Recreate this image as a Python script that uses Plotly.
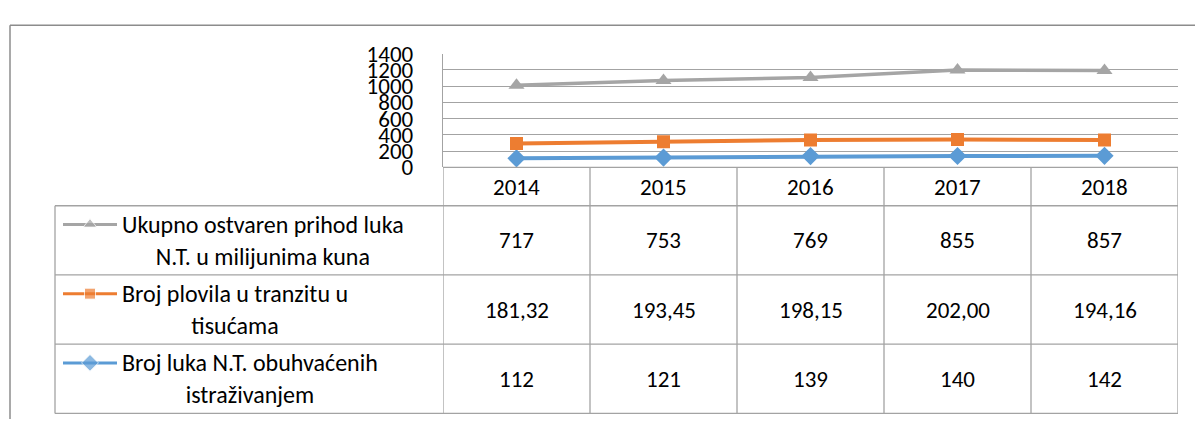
import plotly.graph_objects as go

years = [2014, 2015, 2016, 2017, 2018]
prihod = [717, 753, 769, 855, 857]                      # Ukupno ostvaren prihod luka N.T. u milijunima kuna
plovila = [181.32, 193.45, 198.15, 202.00, 194.16]       # Broj plovila u tranzitu u tisućama
luke = [112, 121, 139, 140, 142]                         # Broj luka N.T. obuhvaćenih istraživanjem

labels = [["Ukupno ostvaren prihod luka", "N.T. u milijunima kuna"],
          ["Broj plovila u tranzitu u", "tisućama"],
          ["Broj luka N.T. obuhvaćenih", "istraživanjem"]]
y_ticks = [0, 200, 400, 600, 800, 1000, 1200, 1400]

GREY, ORANGE, BLUE = "#A5A5A5", "#ED7D31", "#5B9BD5"
W, H = 1195, 433
FONT = "Carlito, Calibri, Lato, sans-serif"
FS = 23
FS_LEG = 24
BORDER = "#A3A3A3"


def px(x):
    return x / W


def py(y):
    return 1 - y / H


plot_left, plot_right, plot_top, plot_bottom = 443, 1178, 42.3, 164
row_edges = [164, 205, 279, 353, 427]
leg_left = 55

fig = go.Figure()

# stacked line series (Excel "stacked line"): blue bottom, orange, grey on top
series = [("Broj luka N.T. obuhvaćenih istraživanjem", luke, BLUE, "diamond", 14, 4),
          ("Broj plovila u tranzitu u tisućama", plovila, ORANGE, "square", 13, 4),
          ("Ukupno ostvaren prihod luka N.T. u milijunima kuna", prihod, GREY, "triangle-up", 14, 3.5)]
for name, vals, col, sym, size, lw in series:
    fig.add_trace(go.Scatter(x=years, y=vals, name=name, stackgroup="one", fill="none",
                             mode="lines+markers", line=dict(color=col, width=lw),
                             marker=dict(symbol=sym, size=size, color=col),
                             showlegend=False, xaxis="x", yaxis="y"))

# legend keys inside the data table (overlay pixel axes)
keys = [(GREY, "triangle-up", 12), (ORANGE, "square", 11), (BLUE, "diamond", 13)]
for i, (col, sym, size) in enumerate(keys):
    yk = row_edges[i + 1] + 20
    fig.add_trace(go.Scatter(x=[63, 90, 117], y=[yk, yk, yk], mode="lines+markers",
                             line=dict(color=col, width=3),
                             marker=dict(symbol=sym, size=[0, size, 0], color=col),
                             showlegend=False, hoverinfo="skip", xaxis="x2", yaxis="y2"))

shapes = []
line = dict(color=BORDER, width=1.3)
# outer chart border (top and left)
shapes.append(dict(type="line", xref="paper", yref="paper", x0=px(10), x1=1, y0=py(12), y1=py(12),
                   line=dict(color="#8C8C8C", width=1.5)))
shapes.append(dict(type="line", xref="paper", yref="paper", x0=px(10), x1=px(10), y0=py(12), y1=0,
                   line=dict(color="#8C8C8C", width=1.5)))
# table horizontal lines
shapes.append(dict(type="line", xref="paper", yref="paper", x0=px(plot_left), x1=px(plot_right),
                   y0=py(row_edges[0]), y1=py(row_edges[0]), line=line))
for ye in row_edges[1:]:
    shapes.append(dict(type="line", xref="paper", yref="paper", x0=px(leg_left), x1=px(plot_right),
                       y0=py(ye), y1=py(ye), line=line))
# table vertical lines at category boundaries
for xb in [y - 0.5 for y in years] + [years[-1] + 0.5]:
    shapes.append(dict(type="line", xref="x", yref="paper", x0=xb, x1=xb,
                       y0=py(row_edges[0]), y1=py(row_edges[-1]), line=line))
shapes.append(dict(type="line", xref="paper", yref="paper", x0=px(leg_left), x1=px(leg_left),
                   y0=py(row_edges[1]), y1=py(row_edges[-1]), line=line))

annotations = []
tf = dict(family=FONT, size=FS, color="#000000")
for j, yr in enumerate(years):
    annotations.append(dict(x=yr, xref="x", yref="paper", y=py((row_edges[0] + row_edges[1]) / 2),
                            text=str(yr), showarrow=False, font=tf, xanchor="center", yanchor="middle"))
rows = [[str(v) for v in prihod],
        [f"{v:.2f}".replace(".", ",") for v in plovila],
        [str(v) for v in luke]]
for i, r in enumerate(rows):
    yc = py((row_edges[i + 1] + row_edges[i + 2]) / 2)
    for yr, t in zip(years, r):
        annotations.append(dict(x=yr, xref="x", yref="paper", y=yc, text=t, showarrow=False,
                                font=tf, xanchor="center", yanchor="middle"))
    txt = "<br>".join(f'<span style="font-size:{FS_LEG}px">{s}</span>' for s in labels[i])
    annotations.append(dict(x=px(120), xref="paper", yref="paper", y=yc, text=txt,
                            showarrow=False, font=dict(family=FONT, size=24.6, color="#000000"),
                            xanchor="left", yanchor="middle", align="center"))

fig.update_layout(
    width=W, height=H, margin=dict(l=0, r=0, t=0, b=0),
    paper_bgcolor="white", plot_bgcolor="rgba(0,0,0,0)",
    xaxis=dict(domain=[px(plot_left), px(plot_right)], range=[years[0] - 0.5, years[-1] + 0.5],
               showticklabels=False, showgrid=False, zeroline=False, showline=False, anchor="y"),
    yaxis=dict(domain=[py(plot_bottom), py(plot_top)], range=[0, 1400], tickvals=y_ticks,
               showgrid=True, gridcolor=BORDER, gridwidth=1.3, zeroline=False,
               showline=True, linecolor=BORDER, linewidth=1.3,
               ticks="outside", ticklen=24, tickcolor="rgba(0,0,0,0)",
               tickfont=dict(family=FONT, size=FS, color="#000000"), anchor="x"),
    xaxis2=dict(domain=[0, 1], range=[0, W], visible=False, anchor="y2"),
    yaxis2=dict(domain=[0, 1], range=[H, 0], visible=False, anchor="x2"),
    shapes=shapes, annotations=annotations, showlegend=False,
)

fig.write_html("out.html", config={"displayModeBar": False},
               post_script="document.body.style.margin='0';document.body.style.overflow='hidden';")
